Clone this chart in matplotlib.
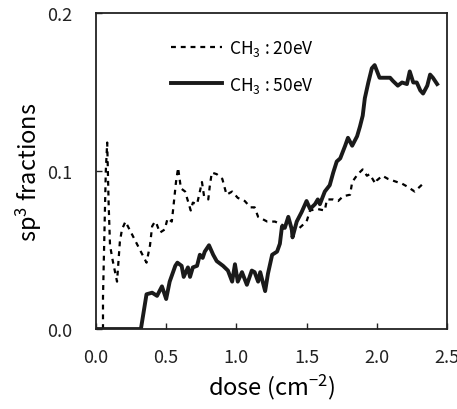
import matplotlib
matplotlib.use("Agg")
import matplotlib.pyplot as plt

plt.rcParams['font.family'] = ['Noto Sans CJK JP', 'DejaVu Sans']
plt.rcParams['mathtext.fontset'] = 'custom'
plt.rcParams['mathtext.rm'] = 'Noto Sans CJK JP'
plt.rcParams['mathtext.it'] = 'Noto Sans CJK JP'

# CH3 20eV (dashed)
dose_20 = [0.05, 0.05, 0.06, 0.07, 0.08, 0.09, 0.10, 0.12, 0.15, 0.17, 0.185, 0.21,
           0.36, 0.385, 0.40, 0.42, 0.43, 0.455, 0.49, 0.51, 0.54, 0.55, 0.57, 0.585,
           0.605, 0.635, 0.655, 0.675, 0.69, 0.72, 0.74, 0.755, 0.77, 0.80, 0.81, 0.825,
           0.86, 0.90, 0.93, 0.97, 1.01, 1.06, 1.10, 1.13, 1.155, 1.22, 1.275, 1.325,
           1.36, 1.40, 1.45, 1.50, 1.525, 1.575, 1.63, 1.645, 1.69, 1.725, 1.76, 1.81,
           1.825, 1.865, 1.90, 1.93, 1.95, 1.99, 2.00, 2.04, 2.08, 2.145, 2.18, 2.22,
           2.27, 2.33]
sp3_20 = [0.0, 0.02, 0.06, 0.10, 0.118, 0.08, 0.053, 0.043, 0.030, 0.055, 0.063, 0.068,
          0.042, 0.053, 0.065, 0.068, 0.067, 0.061, 0.063, 0.070, 0.068, 0.076, 0.093, 0.102,
          0.089, 0.087, 0.081, 0.075, 0.080, 0.079, 0.087, 0.093, 0.084, 0.082, 0.090, 0.099,
          0.098, 0.095, 0.085, 0.087, 0.083, 0.081, 0.077, 0.077, 0.071, 0.068, 0.068, 0.066,
          0.064, 0.063, 0.064, 0.068, 0.075, 0.076, 0.075, 0.082, 0.082, 0.081, 0.084, 0.085,
          0.093, 0.098, 0.101, 0.097, 0.098, 0.092, 0.094, 0.097, 0.095, 0.093, 0.092, 0.090,
          0.087, 0.092]

# CH3 50eV (solid)
dose_50 = [0.0, 0.32, 0.36, 0.40, 0.435, 0.47, 0.50, 0.525, 0.565, 0.58, 0.61, 0.625,
           0.655, 0.67, 0.69, 0.72, 0.74, 0.76, 0.775, 0.805, 0.835, 0.86, 0.905, 0.94,
           0.97, 0.99, 1.01, 1.04, 1.075, 1.11, 1.13, 1.155, 1.17, 1.205, 1.225, 1.255,
           1.29, 1.31, 1.325, 1.345, 1.37, 1.395, 1.40, 1.43, 1.465, 1.50, 1.525, 1.56,
           1.58, 1.595, 1.63, 1.665, 1.69, 1.715, 1.74, 1.775, 1.795, 1.825, 1.86, 1.88,
           1.90, 1.915, 1.94, 1.965, 1.985, 2.02, 2.06, 2.095, 2.115, 2.15, 2.18, 2.215,
           2.235, 2.26, 2.285, 2.31, 2.33, 2.36, 2.38, 2.40, 2.43]
sp3_50 = [0.0, 0.0, 0.022, 0.023, 0.021, 0.027, 0.019, 0.030, 0.040, 0.042, 0.040, 0.033,
          0.039, 0.033, 0.039, 0.040, 0.047, 0.045, 0.049, 0.053, 0.047, 0.043, 0.040, 0.037,
          0.030, 0.041, 0.030, 0.036, 0.028, 0.037, 0.036, 0.030, 0.036, 0.024, 0.035, 0.047,
          0.049, 0.054, 0.065, 0.064, 0.071, 0.063, 0.058, 0.068, 0.074, 0.081, 0.076, 0.079,
          0.082, 0.079, 0.087, 0.091, 0.099, 0.106, 0.108, 0.116, 0.121, 0.116, 0.122, 0.128,
          0.135, 0.146, 0.156, 0.165, 0.167, 0.159, 0.159, 0.159, 0.157, 0.154, 0.156, 0.155,
          0.163, 0.156, 0.156, 0.151, 0.149, 0.154, 0.161, 0.159, 0.155]

fig = plt.figure(figsize=(4.57, 4.10), dpi=100)
ax = fig.add_axes([0.210, 0.195, 0.768, 0.771])

ax.plot(dose_20, sp3_20, color='black', lw=1.6, linestyle=(0, (2.2, 2.2)),
        label='CH$_3$ : 20eV')
ax.plot(dose_50, sp3_50, color='#1a1a1a', lw=2.8, label='CH$_3$ : 50eV')

ax.set_xlim(0, 2.5)
ax.set_ylim(0, 0.2)
ax.set_xticks([0.0, 0.5, 1.0, 1.5, 2.0, 2.5])
ax.set_xticklabels(['0.0', '0.5', '1.0', '1.5', '2.0', '2.5'])
ax.set_yticks([0.0, 0.1, 0.2])
ax.set_yticklabels(['0.0', '0.1', '0.2'])
ax.tick_params(direction='in', length=4, width=1, labelsize=13, pad=14, colors='#222222')
ax.tick_params(axis='y', pad=17)
for s in ax.spines.values():
    s.set_linewidth(1.3)
    s.set_color('#222222')

ax.set_xlabel('dose (cm$^{-2}$)', fontsize=17, labelpad=4)
ax.set_ylabel('sp$^3$ fractions', fontsize=17, labelpad=2)

ax.legend(loc='upper left', bbox_to_anchor=(0.17, 0.97), frameon=False, fontsize=12.5,
          handlelength=2.9, handletextpad=0.4, labelspacing=0.95)

fig.savefig('out.png', dpi=100)
